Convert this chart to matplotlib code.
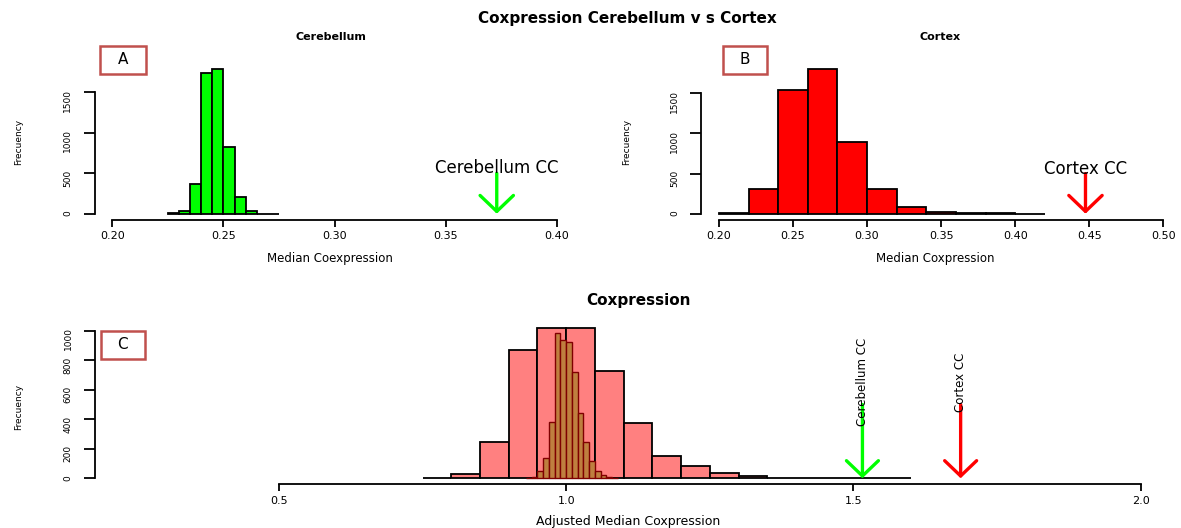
import numpy as np
import matplotlib
matplotlib.use("Agg")
from matplotlib import pyplot as plt
from matplotlib.patches import Rectangle

# Histogram counts
cer_edges = np.round(np.arange(0.225, 0.2751, 0.005), 3)
cer_counts = [3, 29, 367, 1743, 1784, 828, 202, 29, 0, 2]

ctx_edges = np.round(np.arange(0.20, 0.4201, 0.02), 2)
ctx_counts = [4, 307, 1537, 1803, 889, 307, 87, 25, 5, 3, 2]

adj_ctx_edges = np.round(np.arange(0.75, 1.6001, 0.05), 2)
adj_ctx_counts = [3, 29, 248, 869, 1020, 1020, 729, 377, 153, 83, 36, 18, 3, 2, 0, 1, 1]

adj_cer_edges = np.round(np.arange(0.93, 1.0901, 0.01), 2)
adj_cer_counts = [1, 10, 52, 140, 384, 982, 937, 926, 718, 440, 244, 117, 52, 22, 6, 1]

cerebellum_cc = 0.3729
cortex_cc = 0.4475
adj_cerebellum_cc = 1.5156
adj_cortex_cc = 1.6865

W, H = 1181, 528
fig = plt.figure(figsize=(W / 100, H / 100), dpi=100)


def fx(x):
    return x / W


def fy(y):
    return 1 - y / H


def make_axes(x0, x1, y0, y1):
    return fig.add_axes([fx(x0), fy(y1), (x1 - x0) / W, (y1 - y0) / H])


def r_style(ax, xlim, xticks, yticks, ymax):
    pad = 0.04 * (xlim[1] - xlim[0])
    ax.set_xlim(xlim[0] - pad, xlim[1] + pad)
    ax.set_ylim(-0.04 * ymax, 1.04 * ymax)
    for s in ["top", "right"]:
        ax.spines[s].set_visible(False)
    ax.spines["left"].set_bounds(yticks[0], yticks[-1])
    ax.spines["bottom"].set_bounds(xticks[0], xticks[-1])
    for s in ["left", "bottom"]:
        ax.spines[s].set_linewidth(1.3)
    ax.set_xticks(xticks)
    ax.set_yticks(yticks)
    ax.set_yticklabels([str(int(v)) for v in yticks])
    ax.tick_params(axis="x", length=4.8, width=1.3, pad=3.5, labelsize=8)
    ax.tick_params(axis="y", length=8, width=1.3, pad=8, labelsize=6.5,
                   labelrotation=90)
    ax.patch.set_visible(False)


def hist_bars(ax, edges, counts, color, edge="black", lw=1.3):
    edges = np.asarray(edges)
    ax.bar(edges[:-1], counts, width=np.diff(edges), align="edge",
           color=color, edgecolor=edge, linewidth=lw)


def cc_arrow(ax, x, top, color, hl=1.15, hw=1.2):
    ax.annotate("", xy=(x, 0), xytext=(x, top),
                arrowprops=dict(arrowstyle=f"->,head_length={hl},head_width={hw}",
                                color=color, lw=2.4, shrinkA=0, shrinkB=0,
                                mutation_scale=10))


def letter_box(x0, x1, y0, y1, letter):
    fig.add_artist(Rectangle((fx(x0), fy(y1)), (x1 - x0) / W, (y1 - y0) / H,
                             transform=fig.transFigure, facecolor="white",
                             edgecolor="#C0504D", linewidth=1.8))
    fig.text(fx((x0 + x1) / 2), fy((y0 + y1) / 2), letter, ha="center",
             va="center", fontsize=11)


# Panel A: Cerebellum
axA = make_axes(94.5, 574.8, 63.6, 219.5)
r_style(axA, (0.2, 0.4), [0.20, 0.25, 0.30, 0.35, 0.40], [0, 500, 1000, 1500],
        max(cer_counts))
axA.set_xticklabels(["0.20", "0.25", "0.30", "0.35", "0.40"])
hist_bars(axA, cer_edges, cer_counts, "#00FF00")
cc_arrow(axA, cerebellum_cc, 500, "#00FF00")
axA.text(cerebellum_cc, 500, "Cerebellum CC", ha="center", va="baseline",
         fontsize=12)

# Panel B: Cortex
axB = make_axes(701.2, 1181, 63.2, 219.5)
r_style(axB, (0.2, 0.5), [0.20, 0.25, 0.30, 0.35, 0.40, 0.45, 0.50],
        [0, 500, 1000, 1500], max(ctx_counts))
axB.set_xticklabels(["0.20", "0.25", "0.30", "0.35", "0.40", "0.45", "0.50"])
hist_bars(axB, ctx_edges, ctx_counts, "#FF0000")
cc_arrow(axB, cortex_cc, 500, "#FF0000")
axB.text(cortex_cc, 500, "Cortex CC", ha="center", va="baseline", fontsize=12)

# Panel C: adjusted
axC = make_axes(95, 1181, 321.7, 484.3)
r_style(axC, (0.25, 2.0), [0.5, 1.0, 1.5, 2.0], [0, 200, 400, 600, 800, 1000],
        max(adj_ctx_counts))
axC.set_xticklabels(["0.5", "1.0", "1.5", "2.0"])
hist_bars(axC, adj_ctx_edges, adj_ctx_counts, "#FF8080")
hist_bars(axC, adj_cer_edges, adj_cer_counts, "#BF7F3F", edge="#7F0000", lw=1.0)
cc_arrow(axC, adj_cerebellum_cc, 500, "#00FF00", hl=1.1, hw=1.15)
cc_arrow(axC, adj_cortex_cc, 500, "#FF0000", hl=1.1, hw=1.15)
axC.text(adj_cerebellum_cc, 650, "Cerebellum CC", rotation=90, ha="center",
         va="center", fontsize=8.5)
axC.text(adj_cortex_cc, 650, "Cortex CC", rotation=90, ha="center",
         va="center", fontsize=8.5)

# titles and axis labels
fig.text(fx(627), fy(18), "Coxpression Cerebellum v s Cortex", ha="center",
         va="center", fontsize=11, fontweight="bold")
fig.text(fx(330.5), fy(37), "Cerebellum", ha="center", va="center",
         fontsize=8, fontweight="bold")
fig.text(fx(940), fy(37), "Cortex", ha="center", va="center",
         fontsize=8, fontweight="bold")
fig.text(fx(638), fy(300), "Coxpression", ha="center", va="center",
         fontsize=11, fontweight="bold")

fig.text(fx(330), fy(258.7), "Median Coexpression", ha="center", va="center",
         fontsize=8.5)
fig.text(fx(935), fy(258.7), "Median Coxpression", ha="center", va="center",
         fontsize=8.5)
fig.text(fx(628), fy(521.7), "Adjusted Median Coxpression", ha="center",
         va="center", fontsize=9)

for x, y in [(18.3, 142), (626.7, 142), (18.3, 407.3)]:
    fig.text(fx(x), fy(y), "Frecuency", rotation=90, ha="center",
             va="center", fontsize=6.5)

letter_box(100, 145.7, 45.7, 74, "A")
letter_box(722.7, 766.7, 45.7, 74.3, "B")
letter_box(100.7, 145, 330.7, 359, "C")

fig.savefig("out.png", dpi=100)
